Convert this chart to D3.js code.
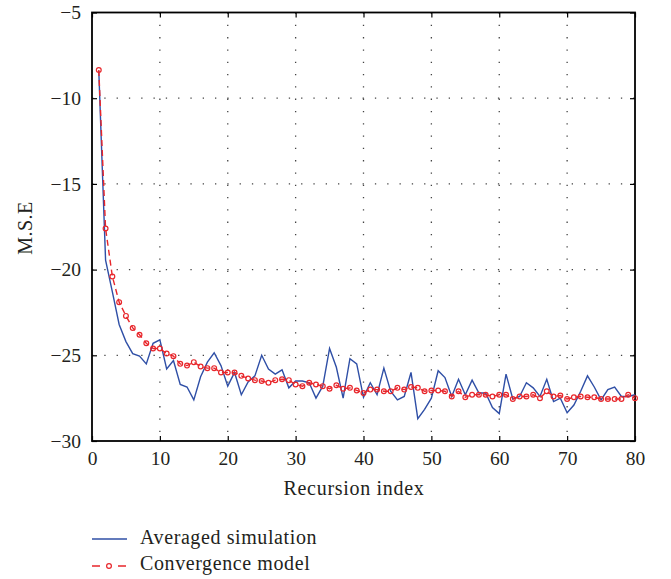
<!DOCTYPE html>
<html><head><meta charset="utf-8">
<script src="https://cdn.jsdelivr.net/npm/d3@7"></script>
<style>body{margin:0;background:#fff}svg{display:block}</style>
</head><body>
<svg id="c" width="671" height="579"></svg>
<script>
const recursionIndex = d3.range(1, 81);
const averagedSimulation = [-8.4,-19.45,-21.3,-23.2,-24.2,-24.9,-25.05,-25.5,-24.3,-24.1,
-25.8,-25.3,-26.7,-26.85,-27.6,-26.25,-25.4,-24.85,-25.6,-26.8,
-26.0,-27.3,-26.55,-26.2,-25.0,-25.8,-26.1,-25.85,-26.9,-26.5,
-26.5,-26.6,-27.5,-26.8,-24.6,-25.7,-27.5,-25.2,-25.5,-27.45,
-26.6,-27.3,-25.75,-27.1,-27.6,-27.4,-26.0,-28.7,-28.15,-27.5,
-25.9,-26.3,-27.4,-26.4,-27.3,-26.45,-27.2,-27.2,-28.05,-28.4,
-26.1,-27.55,-27.4,-26.6,-26.9,-27.4,-26.4,-27.7,-27.5,-28.35,
-27.9,-27.1,-26.2,-26.85,-27.6,-27.0,-26.85,-27.4,-27.4,-27.3];
const convergenceModel = [-8.36,-17.6,-20.4,-21.9,-22.7,-23.4,-23.8,-24.3,-24.6,-24.6,
-24.9,-25.05,-25.5,-25.6,-25.4,-25.65,-25.75,-25.75,-26.0,-26.0,
-26.0,-26.2,-26.35,-26.45,-26.5,-26.6,-26.45,-26.4,-26.45,-26.7,
-26.8,-26.6,-26.7,-26.8,-26.95,-26.75,-26.95,-26.9,-27.05,-27.2,
-27.0,-27.0,-27.1,-27.1,-26.9,-27.0,-26.85,-26.9,-27.1,-27.05,
-27.05,-27.1,-27.4,-27.1,-27.45,-27.3,-27.3,-27.3,-27.4,-27.3,
-27.3,-27.55,-27.4,-27.4,-27.3,-27.5,-27.1,-27.4,-27.35,-27.55,
-27.45,-27.4,-27.45,-27.45,-27.55,-27.55,-27.55,-27.55,-27.3,-27.5];
const xTicks = [0,10,20,30,40,50,60,70,80];
const yTicks = [-5,-10,-15,-20,-25,-30];
const seriesNames = ["Averaged simulation","Convergence model"];

const svg = d3.select("#c");
const L=92,R=635,T=12.5,B=441;
const x = d3.scaleLinear().domain([0,80]).range([L,R]);
const y = d3.scaleLinear().domain([-30,-5]).range([B,T]);
const font = "'Liberation Serif','Times New Roman',serif";
const ink = "#231f20";
const fmt = d => d<0 ? "\u2212"+Math.abs(d) : String(d);

// grid
const g = svg.append("g");
g.selectAll(".vg").data(xTicks.filter(d=>d>0&&d<80)).enter().append("line")
 .attr("x1",d=>x(d)).attr("x2",d=>x(d)).attr("y1",T).attr("y2",B)
 .attr("stroke","#444").attr("stroke-width",1.3).attr("stroke-dasharray","1.3,11");
g.selectAll(".hg").data(yTicks.filter(d=>d>-30&&d<-5)).enter().append("line")
 .attr("y1",d=>y(d)).attr("y2",d=>y(d)).attr("x1",L).attr("x2",R)
 .attr("stroke","#444").attr("stroke-width",1.3).attr("stroke-dasharray","1.3,11");

// axes
const xb = svg.append("g").attr("transform",`translate(0,${B})`)
 .call(d3.axisBottom(x).tickValues(xTicks).tickSize(-5).tickPadding(10).tickFormat(fmt));
const xt = svg.append("g").attr("transform",`translate(0,${T})`)
 .call(d3.axisTop(x).tickValues(xTicks).tickSize(-5).tickFormat(""));
const yl = svg.append("g").attr("transform",`translate(${L},0)`)
 .call(d3.axisLeft(y).tickValues(yTicks).tickSize(-5).tickPadding(11).tickFormat(fmt));
const yr = svg.append("g").attr("transform",`translate(${R},0)`)
 .call(d3.axisRight(y).tickValues(yTicks).tickSize(-5).tickFormat(""));
[xb,xt,yl,yr].forEach(a=>{
  a.select(".domain").remove();
  a.selectAll(".tick line").attr("stroke","#000").attr("stroke-width",1.2);
  a.selectAll("text").attr("font-family",font).attr("font-size",19.5).attr("fill",ink);
});
svg.append("rect").attr("x",L).attr("y",T).attr("width",R-L).attr("height",B-T)
 .attr("fill","none").attr("stroke","#000").attr("stroke-width",1.8);

// lines
const blue="#2f4fa6", red="#e8262b";
const line = d3.line().x((d,i)=>x(recursionIndex[i])).y(d=>y(d));
svg.append("path").datum(averagedSimulation).attr("d",line)
 .attr("fill","none").attr("stroke",blue).attr("stroke-width",1.4);
svg.append("path").datum(convergenceModel).attr("d",line)
 .attr("fill","none").attr("stroke",red).attr("stroke-width",1.4).attr("stroke-dasharray","6,4");
svg.selectAll(".pt").data(convergenceModel).enter().append("circle")
 .attr("cx",(d,i)=>x(recursionIndex[i])).attr("cy",d=>y(d)).attr("r",2.4)
 .attr("fill","none").attr("stroke",red).attr("stroke-width",1.2);

// labels
svg.append("text").attr("x",354).attr("y",495).attr("text-anchor","middle")
 .attr("font-family",font).attr("font-size",20).attr("letter-spacing",0.7).attr("fill",ink).text("Recursion index");
svg.append("text").attr("transform",`translate(32,228) rotate(-90)`).attr("text-anchor","middle")
 .attr("font-family",font).attr("font-size",20).attr("letter-spacing",0.5).attr("fill",ink).text("M.S.E");

// legend
const lg = svg.append("g");
lg.append("line").attr("x1",92).attr("x2",127).attr("y1",539).attr("y2",539).attr("stroke",blue).attr("stroke-width",1.4);
lg.append("line").attr("x1",92).attr("x2",127).attr("y1",566).attr("y2",566).attr("stroke",red).attr("stroke-width",1.4).attr("stroke-dasharray","8,18");
lg.append("circle").attr("cx",109).attr("cy",566).attr("r",2.4).attr("fill","none").attr("stroke",red).attr("stroke-width",1.2);
lg.selectAll(".lt").data(seriesNames).enter().append("text")
 .attr("x",140).attr("y",(d,i)=>544+i*26).attr("font-family",font).attr("font-size",20).attr("letter-spacing",0.6).attr("fill",ink).text(d=>d);
</script>
</body></html>
